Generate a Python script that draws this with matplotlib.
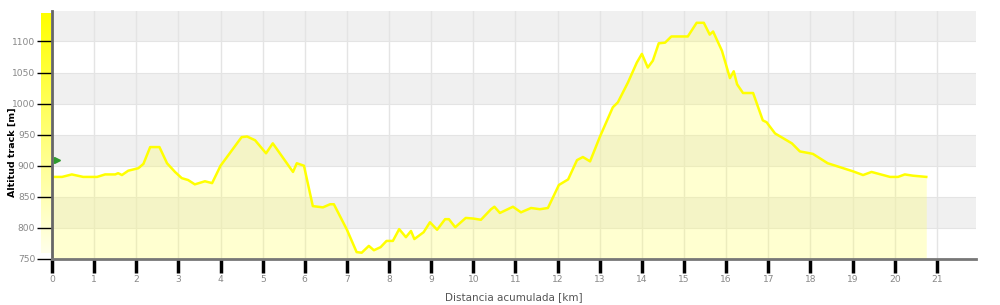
import numpy as np
import matplotlib
matplotlib.use("Agg")
import matplotlib.pyplot as plt

# distance (km) and altitude (m)
dist = [0.0, 0.24, 0.47, 0.74, 1.07, 1.26, 1.5, 1.57, 1.66, 1.81, 1.93, 2.05, 2.17,
        2.33, 2.55, 2.73, 2.92, 3.08, 3.23, 3.39, 3.63, 3.8, 4.0, 4.5, 4.63, 4.82,
        5.08, 5.24, 5.72, 5.81, 5.98, 6.19, 6.43, 6.6, 6.69, 7.0, 7.23, 7.35, 7.52,
        7.64, 7.8, 7.94, 8.09, 8.24, 8.4, 8.52, 8.6, 8.82, 8.97, 9.14, 9.33, 9.42,
        9.57, 9.82, 10.0, 10.18, 10.42, 10.5, 10.63, 10.94, 11.13, 11.37, 11.58,
        11.77, 12.03, 12.25, 12.46, 12.6, 12.77, 13.0, 13.31, 13.43, 13.67, 13.88,
        14.0, 14.14, 14.26, 14.4, 14.55, 14.7, 15.09, 15.3, 15.47, 15.61, 15.69,
        15.9, 16.09, 16.18, 16.26, 16.4, 16.64, 16.87, 16.96, 17.16, 17.56, 17.75,
        17.99, 18.06, 18.41, 19.01, 19.25, 19.45, 19.89, 20.08, 20.24, 20.43, 20.75]
alt = [882, 882, 886, 882, 882, 886, 886, 888, 885, 892, 894, 896, 903,
       930, 930, 904, 890, 880, 877, 870, 875, 872, 900, 946, 947, 941,
       920, 936, 890, 904, 900, 835, 833, 838, 838, 797, 761, 760, 771,
       764, 769, 779, 779, 798, 785, 795, 782, 793, 809, 797, 814, 814,
       801, 816, 815, 813, 830, 834, 824, 834, 825, 832, 830,
       832, 869, 878, 909, 914, 907, 946, 994, 1002, 1034, 1066,
       1080, 1058, 1069, 1097, 1098, 1108, 1108, 1130, 1130, 1111, 1116,
       1085, 1041, 1052, 1031, 1017, 1017, 973, 970, 952, 936, 923,
       920, 919, 904, 891, 885, 890, 882, 882, 886, 884, 882]

x_ticks = list(range(0, 22))
y_ticks = [750, 800, 850, 900, 950, 1000, 1050, 1100]

fig = plt.figure(figsize=(10, 3.05), dpi=100)
ax = fig.add_axes([0.052, 0.151, 0.924, 0.813])
ax.set_xlim(0, 21.93)
ax.set_ylim(750, 1149)

# alternating horizontal bands
for lo in range(800, 1150, 100):
    ax.axhspan(lo, lo + 50, color="#f0f0f0", zorder=0, lw=0)
for v in range(750, 1150, 50):
    ax.axhline(v, color="#e4e4e4", lw=0.8, zorder=0.5)
for v in x_ticks:
    ax.axvline(v, color="#e4e4e4", lw=1, zorder=0.5)

ax.fill_between(dist, alt, 750, color="#ffff66", alpha=0.3, lw=0, zorder=1)
ax.plot(dist, alt, color="#ffff00", lw=1.8, zorder=2)
ax.plot([0.12], [909], marker=">", color="#2e9a2e", ms=4, zorder=3, clip_on=False)

ax.set_xticks(x_ticks)
ax.set_yticks(y_ticks)
ax.tick_params(axis="x", length=10, width=2.5, color="black", labelsize=6.6,
               labelcolor="#888888", pad=1.5)
ax.tick_params(axis="y", length=11, width=1, color="black", labelsize=6.6,
               labelcolor="#888888", pad=1)
for s in ["top", "right"]:
    ax.spines[s].set_visible(False)
ax.spines["left"].set_color("#666666")
ax.spines["left"].set_linewidth(2)
ax.spines["bottom"].set_color("#777777")
ax.spines["bottom"].set_linewidth(2)

ax.set_ylabel("Altitud track [m]", fontsize=6.8, fontweight="bold", color="black")
ax.yaxis.set_label_coords(-0.043, 0.43)
ax.set_xlabel("Distancia acumulada [km]", fontsize=7.5, color="#555555")
ax.xaxis.set_label_coords(0.5, -0.153)
ax.xaxis.label.set_va("center")
ax.yaxis.label.set_va("center")

# yellow gradient bar left of the axis
bar = fig.add_axes([0.041, 1 - 253 / 305, 0.0095, 240 / 305], zorder=-1)
grad = np.linspace(1, 0, 256)
rgb = np.ones((256, 1, 3))
rgb[:, 0, 2] = 0.92 - 0.92 * grad
bar.imshow(rgb, aspect="auto")
bar.axis("off")

fig.savefig("out.png", dpi=100)
